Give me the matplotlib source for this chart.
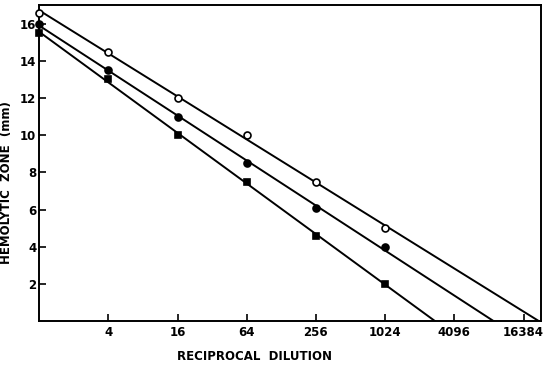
import matplotlib
matplotlib.use("Agg")
import matplotlib.pyplot as plt
import numpy as np

# reciprocal dilution and hemolytic zone (mm)
dilution = [1, 4, 16, 64, 256, 1024]
zone_open = [16.6, 14.5, 12.0, 10.0, 7.5, 5.0]
zone_filled = [16.0, 13.5, 11.0, 8.5, 6.1, 4.0]
zone_square = [15.5, 13.0, 10.0, 7.5, 4.6, 2.0]

xticks = [4, 16, 64, 256, 1024, 4096, 16384]
yticks = [2, 4, 6, 8, 10, 12, 14, 16]

plt.rcParams['font.family'] = ['DejaVu Sans']
fig = plt.figure(figsize=(5.43, 3.65), dpi=100)
ax = fig.add_axes([0.072, 0.12, 0.924, 0.866])
ax.set_xscale('log', base=2)

series = [(zone_open, 'o', 'white'), (zone_filled, 'o', 'black'), (zone_square, 's', 'black')]
for ydata, mk, fc in series:
    lx = np.log2(dilution)
    slope, icpt = np.polyfit(lx, ydata, 1)
    xend = -icpt / slope
    xs = np.array([0, xend])
    ax.plot(2 ** xs, icpt + slope * xs, color='black', lw=1.4, zorder=2)
    ax.plot(dilution, ydata, mk, ms=5, mfc=fc, mec='black', mew=1.2,
            linestyle='none', zorder=3, clip_on=False)

ax.set_xlim(1, 2 ** 14.5)
ax.set_ylim(0, 17)
ax.set_xticks(xticks)
ax.set_xticklabels([str(t) for t in xticks])
ax.minorticks_off()
ax.set_yticks(yticks)
ax.tick_params(direction='in', length=5, width=1.2, labelsize=8.5)
ax.tick_params(axis='y', pad=2)
for lab in ax.get_xticklabels() + ax.get_yticklabels():
    lab.set_fontweight('bold')
for sp in ax.spines.values():
    sp.set_linewidth(1.4)

ax.set_xlabel('RECIPROCAL  DILUTION', fontsize=8.5, fontweight='bold')
ax.xaxis.set_label_coords(0.43, -0.09)
ax.set_ylabel('HEMOLYTIC  ZONE  (mm)', fontsize=8.5, fontweight='bold')
ax.yaxis.set_label_coords(-0.052, 0.44)

fig.savefig('out.png', dpi=100)
